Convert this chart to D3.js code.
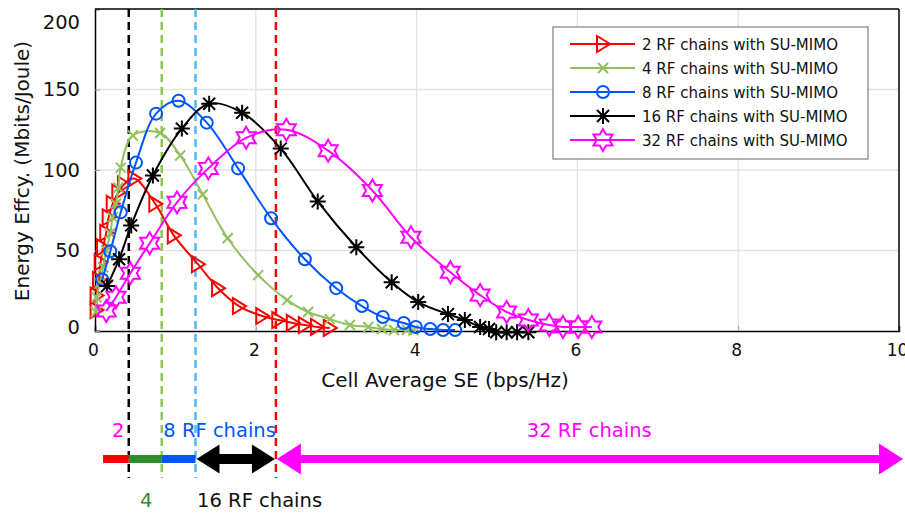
<!DOCTYPE html>
<html>
<head>
<meta charset="utf-8">
<script src="https://cdn.jsdelivr.net/npm/d3@7"></script>
<style>
  body { margin: 0; background: #fff; }
  text { font-family: "DejaVu Sans", sans-serif; }
</style>
</head>
<body>
<div id="chart"></div>
<script>
// series values: [SE (bps/Hz), EE (Mbits/Joule)]
var rf2 = [[0.02,13],[0.02,22],[0.05,31.6],[0.07,42.7],[0.10,52],[0.14,61],[0.17,70.6],[0.22,79],
  [0.29,86],[0.36,91],[0.49,94.7],[0.75,79],[0.98,59.4],[1.28,41.5],[1.53,26.6],[1.79,15.5],
  [2.08,9.3],[2.28,6.8],[2.46,5],[2.61,3.7],[2.76,2.5],[2.92,1.9]];
var rf4 = [[0.01,11.8],[0.02,21],[0.06,29.7],[0.10,39.6],[0.14,50],[0.19,60.7],[0.22,70.6],[0.26,79],
  [0.29,89],[0.32,101.5],[0.47,121.4],[0.81,123],[1.06,109],[1.34,84.8],[1.65,57.6],[2.03,34.7],
  [2.39,19.2],[2.65,11.8],[2.92,7.4],[3.17,3.7],[3.40,2.5],[3.57,1.2],[3.72,0.6],[3.88,0.6],[3.96,0.5]];
var rf8 = [[0.09,32],[0.19,49.5],[0.32,73.7],[0.51,104.6],[0.76,135],[1.04,143],[1.39,129.4],
  [1.78,101],[2.19,70],[2.61,44.6],[3.00,26.6],[3.32,15.5],[3.58,8.7],[3.84,5],[3.99,2.5],
  [4.17,1.2],[4.33,0.6],[4.48,0.6]];
var rf16 = [[0.15,27.9],[0.30,44.6],[0.45,65.6],[0.72,96.6],[1.08,125.7],[1.42,141.2],[1.83,135.6],
  [2.31,113.3],[2.77,80.5],[3.25,52],[3.69,30.3],[4.02,18],[4.39,10.5],[4.60,6.8],[4.79,2.5],
  [4.90,1.2],[4.99,-0.8],[5.12,-0.8],[5.25,-0.8],[5.39,-0.8]];
var rf32 = [[0.14,12.4],[0.26,21],[0.44,35.9],[0.68,54.5],[1.02,79.9],[1.41,101],[1.88,120],
  [2.38,125],[2.90,112],[3.45,87.3],[3.93,58.2],[4.42,36.5],[4.79,22.3],[5.12,11.8],[5.39,6.8],
  [5.65,3.7],[5.82,2.5],[6.01,2.5],[6.18,2.5]];

var seriesNames = ["2 RF chains with SU-MIMO", "4 RF chains with SU-MIMO", "8 RF chains with SU-MIMO",
  "16 RF chains with SU-MIMO", "32 RF chains with SU-MIMO"];

var xTicks = [0, 2, 4, 6, 8, 10];
var yTicks = [0, 50, 100, 150, 200];

// SE thresholds where the best number of RF chains changes (dashed lines)
var thresholds = [0.42, 0.83, 1.25, 2.25];
var rangeStart = 0.1, rangeEnd = 10.05;

var svgWidth = 905, svgHeight = 514;
var margin = { top: 9, left: 95 };
var width = 804, height = 322;

var svg = d3.select("#chart").append("svg")
  .attr("width", svgWidth)
  .attr("height", svgHeight);

var x = d3.scaleLinear().domain([0, 10]).range([margin.left, margin.left + width]);
var y = d3.scaleLinear().domain([0, 200]).range([margin.top + height, margin.top]);

// grid
svg.append("g").selectAll("line.gx")
  .data(xTicks.slice(1, -1)).enter().append("line")
  .attr("x1", d => x(d)).attr("x2", d => x(d))
  .attr("y1", y(0)).attr("y2", y(200))
  .attr("stroke", "#e3e3e3").attr("stroke-width", 1.3);
svg.append("g").selectAll("line.gy")
  .data(yTicks.slice(1, -1)).enter().append("line")
  .attr("x1", x(0)).attr("x2", x(10))
  .attr("y1", d => y(d)).attr("y2", d => y(d))
  .attr("stroke", "#e3e3e3").attr("stroke-width", 1.3);

// axes (matlab style, ticks inside)
var bottomAxis = d3.axisBottom(x).tickValues(xTicks).tickSize(-5).tickPadding(13);
var leftAxis = d3.axisLeft(y).tickValues(yTicks).tickSize(-5).tickPadding(15);
var gx = svg.append("g").attr("transform", `translate(0,${y(0)})`).call(bottomAxis);
var gy = svg.append("g").attr("transform", `translate(${x(0)},0)`).call(leftAxis);
[gx, gy].forEach(function(g) {
  g.selectAll("text").attr("fill", "#111").style("font-family", "'DejaVu Sans', sans-serif");
  g.selectAll("line").attr("stroke", "#999");
  g.select(".domain").attr("stroke", "#000").attr("stroke-width", 1.5);
});
gx.selectAll("text").style("font-size", "17px").attr("dy", "0.71em").attr("dx", -2);
gy.selectAll("text").style("font-size", "19.5px")
  .attr("dy", d => d === 200 ? "1.0em" : (d === 0 ? "0.12em" : "0.32em"));
// top and right border
svg.append("line").attr("x1", x(0)).attr("x2", x(10)).attr("y1", y(200)).attr("y2", y(200))
  .attr("stroke", "#000").attr("stroke-width", 1.5);
svg.append("line").attr("x1", x(10)).attr("x2", x(10)).attr("y1", y(200)).attr("y2", y(0))
  .attr("stroke", "#000").attr("stroke-width", 1.5);

// axis labels
svg.append("text")
  .attr("x", 445).attr("y", 387)
  .attr("text-anchor", "middle")
  .style("font-size", "20px").attr("fill", "#111")
  .text("Cell Average SE (bps/Hz)");
svg.append("text")
  .attr("transform", "translate(29,171)rotate(-90)")
  .attr("text-anchor", "middle")
  .style("font-size", "20px").attr("fill", "#111")
  .text("Energy Effcy. (Mbits/Joule)");

// dashed threshold lines
var dashColors = ["#000000", "#8cc84b", "#4db8ff", "#ff0000"];
svg.append("g").selectAll("line")
  .data(thresholds).enter().append("line")
  .attr("x1", d => x(d)).attr("x2", d => x(d))
  .attr("y1", y(200)).attr("y2", 478)
  .attr("stroke", (d, i) => dashColors[i])
  .attr("stroke-width", 2.5)
  .attr("stroke-dasharray", "8,5");

// marker shapes
function triPath() { return "M-6,-8L7,0L-6,8Z"; }
function xPath() { return "M-5,-5L5,5M-5,5L5,-5"; }
function circlePath() { return d3.symbol(d3.symbolCircle, Math.PI * 36)(); }
function astPath() { return "M0,-8L0,8M-8,0L8,0M-6,-6L6,6M-6,6L6,-6"; }
function hexPath() {
  var R = 11, r = 6.4, p = [];
  for (var k = 0; k < 12; k++) {
    var a = -Math.PI / 2 + k * Math.PI / 6;
    var rr = k % 2 === 0 ? R : r;
    p.push([rr * Math.cos(a), rr * Math.sin(a)]);
  }
  return "M" + p.map(q => q[0].toFixed(2) + "," + q[1].toFixed(2)).join("L") + "Z";
}

var series = [
  { data: rf2, color: "#ff0000", marker: triPath },
  { data: rf4, color: "#92c05e", marker: xPath },
  { data: rf8, color: "#0055ff", marker: circlePath },
  { data: rf16, color: "#000000", marker: astPath },
  { data: rf32, color: "#ff00ff", marker: hexPath }
];

var line = d3.line()
  .x(d => x(d[0])).y(d => y(d[1]))
  .curve(d3.curveCatmullRom.alpha(0.5));

series.forEach(function(s) {
  svg.append("path")
    .datum(s.data)
    .attr("d", line)
    .attr("fill", "none")
    .attr("stroke", s.color)
    .attr("stroke-width", 2);
  svg.append("g").selectAll("path")
    .data(s.data).enter().append("path")
    .attr("transform", d => `translate(${x(d[0])},${y(d[1])})`)
    .attr("d", s.marker())
    .attr("fill", "none")
    .attr("stroke", s.color)
    .attr("stroke-width", 2);
});

// legend
var legend = svg.append("g").attr("transform", "translate(553,27)");
legend.append("rect")
  .attr("width", 315).attr("height", 132)
  .attr("fill", "#fff").attr("stroke", "#808080").attr("stroke-width", 1.2);
seriesNames.forEach(function(name, i) {
  var row = legend.append("g").attr("transform", `translate(0,${17 + i * 24})`);
  row.append("line").attr("x1", 17).attr("x2", 82).attr("y1", 0).attr("y2", 0)
    .attr("stroke", series[i].color).attr("stroke-width", 2);
  row.append("path").attr("transform", "translate(50,0)")
    .attr("d", series[i].marker())
    .attr("fill", "none").attr("stroke", series[i].color).attr("stroke-width", 2);
  row.append("text").attr("x", 89).attr("y", 5.5)
    .style("font-size", "15px").attr("fill", "#111")
    .text(name);
});

// bottom band showing best RF chain count per SE region
var barY = 459;
var segBounds = [rangeStart].concat(thresholds.slice(0, 3));
var segColors = ["#ff0000", "#2e8b2e", "#0055ff"];
svg.append("g").selectAll("rect")
  .data(segBounds.slice(0, 3)).enter().append("rect")
  .attr("x", d => x(d))
  .attr("y", barY - 4)
  .attr("width", (d, i) => x(segBounds[i + 1]) - x(d))
  .attr("height", 8)
  .attr("fill", (d, i) => segColors[i]);

function doubleArrow(x0, x1, color, shaft, headW, headH) {
  var h = shaft / 2, H = headH / 2;
  var p = [[x0, barY], [x0 + headW, barY - H], [x0 + headW, barY - h], [x1 - headW, barY - h],
    [x1 - headW, barY - H], [x1, barY], [x1 - headW, barY + H], [x1 - headW, barY + h],
    [x0 + headW, barY + h], [x0 + headW, barY + H]];
  svg.append("path")
    .attr("d", "M" + p.map(q => q.join(",")).join("L") + "Z")
    .attr("fill", color);
}
doubleArrow(x(thresholds[2]) + 1, x(thresholds[3]) - 1, "#000", 10, 23, 29);
doubleArrow(x(thresholds[3]) + 1, x(rangeEnd), "#ff00ff", 8, 24, 31);

var notes = [
  { t: "2", at: 0.21, y: 437, c: "#ff00ff" },
  { t: "8 RF chains", at: 0.85, y: 437, c: "#0055ff" },
  { t: "32 RF chains", at: 5.37, y: 437, c: "#ff00ff" },
  { t: "4", at: 0.56, y: 507, c: "#2e8b2e" },
  { t: "16 RF chains", at: 1.27, y: 507, c: "#111" }
];
svg.append("g").selectAll("text")
  .data(notes).enter().append("text")
  .attr("x", d => x(d.at)).attr("y", d => d.y)
  .style("font-size", "19.5px")
  .attr("fill", d => d.c)
  .text(d => d.t);
</script>
</body>
</html>
